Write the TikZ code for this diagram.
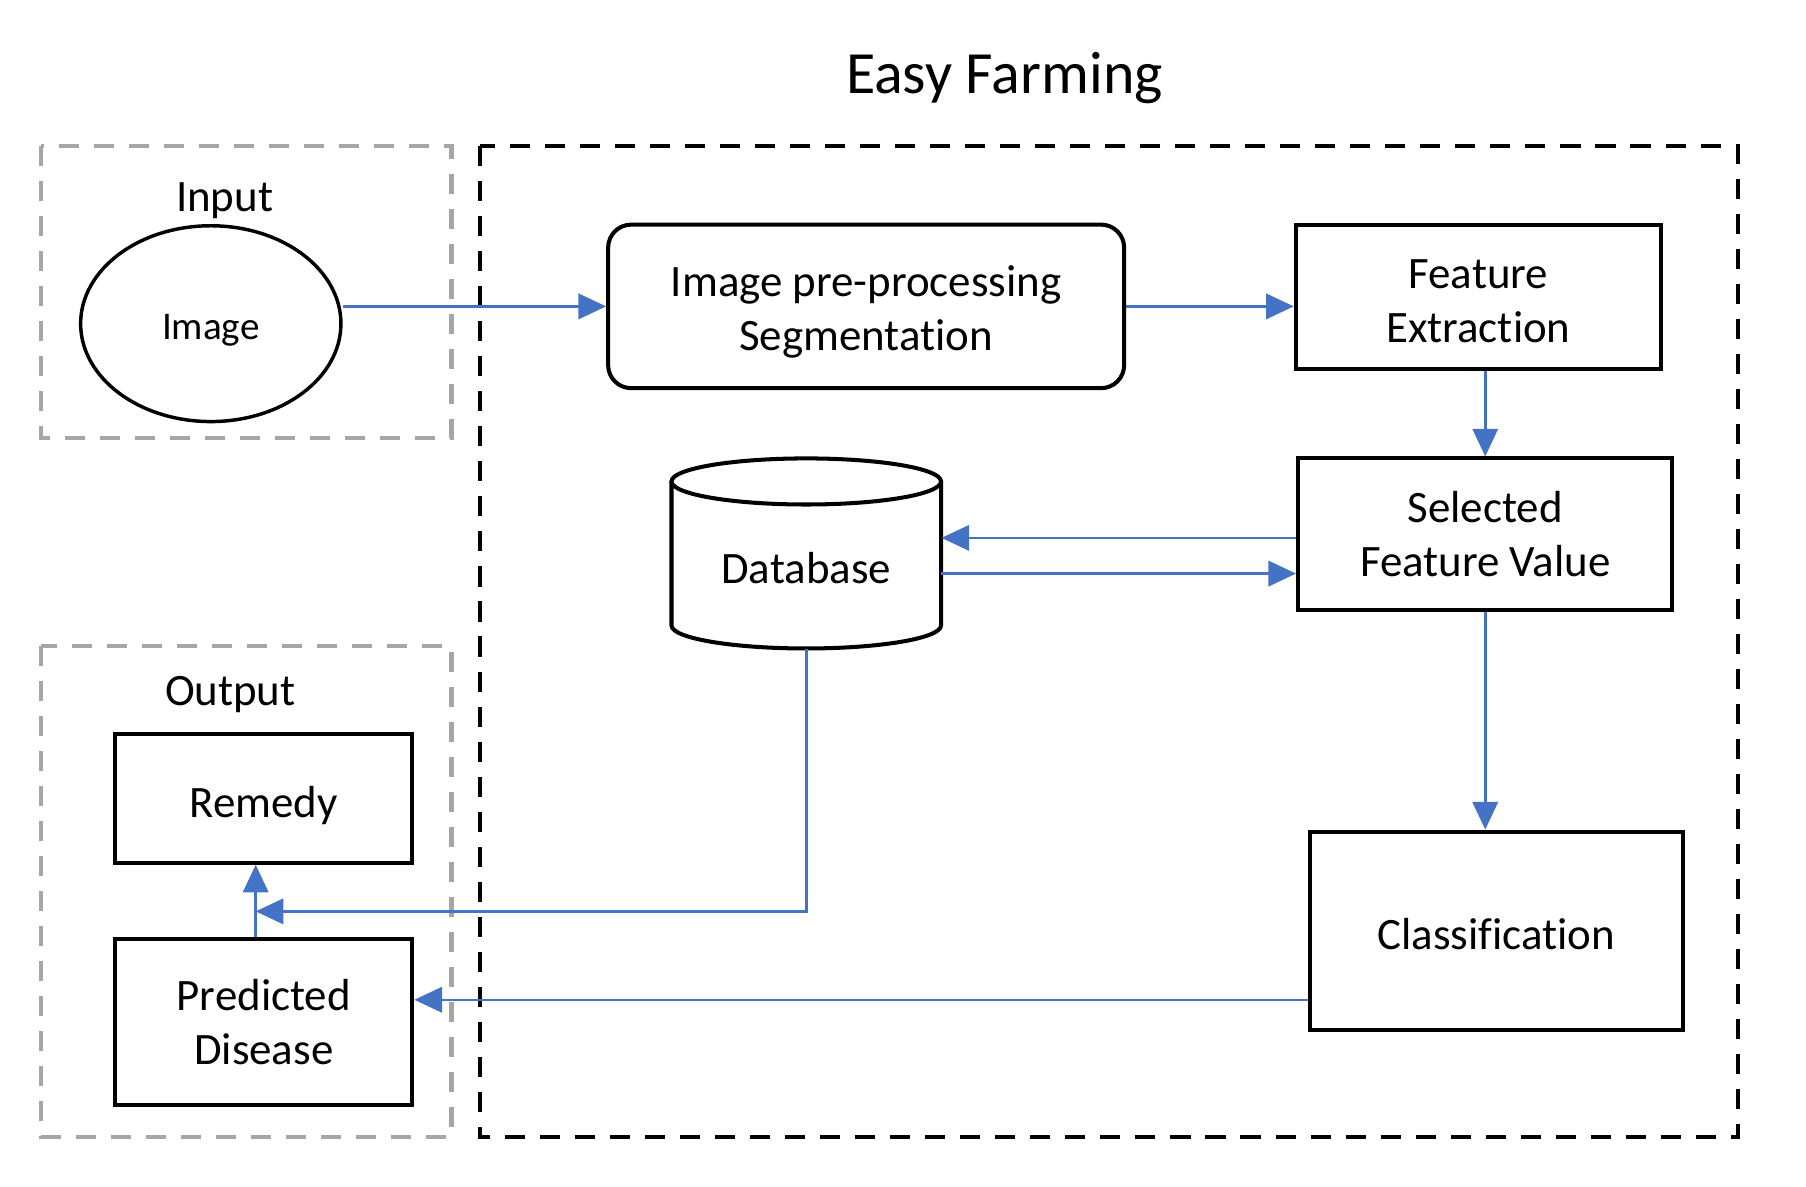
\documentclass[tikz,border=0pt]{standalone}
\usepackage{fontspec}
\setmainfont[Ligatures=NoCommon]{Carlito}
\usetikzlibrary{arrows.meta,shapes.geometric,calc}
\definecolor{arrblue}{HTML}{4472C4}
\definecolor{grayline}{HTML}{A6A6A6}
\newcommand\boxlines[2]{\raisebox{#1}[\height][\depth]{\begin{tabular}{@{}c@{}}#2\end{tabular}}}
\begin{document}
\begin{tikzpicture}[x=0.5pt,y=-0.5pt,
  box/.style={draw=black,line width=1.75pt,inner sep=0pt,
    font=\fontsize{19.5}{23.5}\selectfont},
  arr/.style={draw=arrblue,line width=1.1pt,-{Triangle[length=12pt,width=11pt]}},
  grayframe/.style={draw=grayline,line width=1.75pt,dash pattern=on 8.7pt off 6.5pt},
  blackframe/.style={draw=black,line width=1.75pt,dash pattern=on 8.7pt off 6.5pt},
  lbl/.style={inner sep=0pt,font=\fontsize{19.5}{23.5}\selectfont}]
\useasboundingbox (0,0) rectangle (1568,1030);

% frames
\draw[grayframe] (36,127) rectangle (392,380);
\draw[grayframe] (36,561) rectangle (392,987);
\draw[blackframe] (417,127) rectangle (1509,987);

% labels
\node[inner sep=0pt,font=\fontsize{26}{30}\selectfont] (title) at (872,68) {Easy Farming};
\node[lbl] (inlbl) at (195,174) {Input};
\node[lbl] (outlbl) at (200,603) {Output};

% nodes
\node[draw=black,line width=1.5pt,ellipse,minimum width=113pt,minimum height=85pt,inner sep=0pt,
  font=\fontsize{17}{20}\selectfont] (img) at (183,281) {\boxlines{-3pt}{Image}};
\node[box,rounded corners=10pt,minimum width=224pt,minimum height=71pt] (pre) at (752,266)
  {\boxlines{-2.75pt}{Image pre-processing\\Segmentation}};
\node[box,minimum width=158.5pt,minimum height=62.5pt] (fe) at (1283.5,257.5)
  {\boxlines{-3.5pt}{Feature\\Extraction}};
\node[box,minimum width=162.5pt,minimum height=66pt] (sfv) at (1289.5,464)
  {\boxlines{-2pt}{Selected\\Feature Value}};
\node[box,minimum width=162pt,minimum height=86pt] (cls) at (1299,808)
  {\boxlines{-3.5pt}{Classification}};
\node[box,minimum width=129pt,minimum height=56pt] (rem) at (229,693)
  {\boxlines{-3.5pt}{Remedy}};
\node[box,minimum width=129pt,minimum height=72pt] (pd) at (229,887)
  {\boxlines{-2pt}{Predicted\\Disease}};

% database cylinder
\node[minimum width=117pt,minimum height=82.5pt,inner sep=0pt] (db) at (700,480.5) {};
\draw[line width=1.75pt] (700,418) ellipse [x radius=58.5pt,y radius=10pt];
\draw[line width=1.75pt] (583,418) -- (583,543)
  arc[start angle=180,end angle=360,x radius=58.5pt,y radius=10pt] -- (817,418);
\node[lbl] (dbt) at ([yshift=-6.25pt]db.center) {Database};

% connectors
\draw[arr] (img.east |- pre.west) -- (pre.west);
\draw[arr] (pre.east) -- (pre.east -| fe.west);
\draw[arr] (sfv.north |- fe.south) -- (sfv.north);
\coordinate (a1) at ([yshift=-1.5pt]sfv.west);
\draw[arr] (a1) -- (a1 -| db.east);
\coordinate (a2) at ([yshift=-8.75pt]db.east);
\draw[arr] (a2) -- (a2 -| sfv.west);
\draw[arr] (sfv.south) -- (sfv.south |- cls.north);
\coordinate (a3) at ([yshift=-30pt]cls.west);
\draw[arr] (a3) -- (a3 -| pd.east);
\coordinate (a4) at ([xshift=-3.5pt,yshift=11pt]pd.north);
\draw[arr] (db.south) |- (a4);
\draw[arr] ([xshift=-3.5pt]pd.north) -- ([xshift=-3.5pt]rem.south);
\end{tikzpicture}
\end{document}
